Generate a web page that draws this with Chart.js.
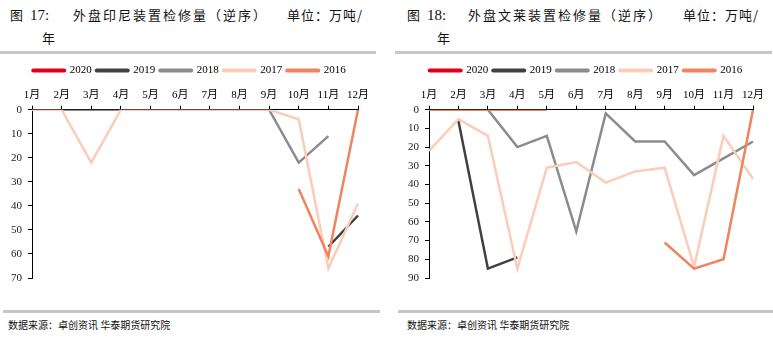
<!DOCTYPE html>
<html>
<head>
<meta charset="utf-8">
<script src="https://cdn.jsdelivr.net/npm/chart.js@4"></script>
<style>
  body { margin: 0; background: #fff; width: 773px; height: 344px; position: relative; overflow: hidden;
         font-family: 'Noto Sans CJK SC', sans-serif; color: #111; }
  .t { position: absolute; font-size: 13px; white-space: nowrap; line-height: 16px; letter-spacing: 2px; }
  .num { font-family: 'Liberation Serif', serif; font-size: 15px; letter-spacing: 0; }
  .rule { position: absolute; height: 3px; background: #c6c6c6; }
  .src { position: absolute; font-size: 10px; white-space: nowrap; line-height: 14px; letter-spacing: 0; }
  canvas { position: absolute; }
</style>
</head>
<body>
<div class="t" style="left:10px;top:7px">图 <span class="num">17:</span></div>
<div class="t" style="left:73px;top:7px">外盘印尼装置检修量（逆序）</div>
<div class="t" style="left:287px;top:7px;letter-spacing:1px">单位：万吨/</div>
<div class="t" style="left:42px;top:30px">年</div>
<div class="rule" style="left:0;top:51px;width:376px"></div>

<div class="t" style="left:407px;top:7px">图 <span class="num">18:</span></div>
<div class="t" style="left:468px;top:7px">外盘文莱装置检修量（逆序）</div>
<div class="t" style="left:683px;top:7px;letter-spacing:1px">单位：万吨/</div>
<div class="t" style="left:437px;top:30px">年</div>
<div class="rule" style="left:395px;top:51px;width:377px"></div>

<canvas id="graficoIndonesia" width="380" height="240" style="left:0;top:58px"></canvas>
<canvas id="graficoBrunei" width="383" height="240" style="left:390px;top:58px"></canvas>

<div class="rule" style="left:3px;top:310px;width:377px"></div>
<div class="rule" style="left:398px;top:310px;width:375px"></div>
<div class="src" style="left:8px;top:318px">数据来源：卓创资讯 华泰期货研究院</div>
<div class="src" style="left:407px;top:318px">数据来源：卓创资讯 华泰期货研究院</div>

<script>
const meses = ['1月', '2月', '3月', '4月', '5月', '6月', '7月', '8月', '9月', '10月', '11月', '12月'];
const anos = ['2020', '2019', '2018', '2017', '2016'];
const cores = ['#e0001b', '#404040', '#8c8c8c', '#fbcdb8', '#f0845e'];

// 印尼 (万吨, 逆序)
const indonesia2020 = [null, null, null, null, null, null, null, null, null, null, null, null];
const indonesia2019 = [null, null, null, null, null, null, null, null, null, null, 57, 44];
const indonesia2018 = [0, 0, 0, 0, 0, 0, 0, 0, 0, 22, 11, null];
const indonesia2017 = [0, 0, 22, 0, 0, 0, 0, 0, 0, 4, 66, 39];
const indonesia2016 = [null, null, null, null, null, null, null, null, null, 33, 61, 0];
const ticksIndonesia = [0, 10, 20, 30, 40, 50, 60, 70];

// 文莱
const brunei2020 = [null, null, null, null, null, null, null, null, null, null, null, null];
const brunei2019 = [null, 6, 85, 79, null, null, null, null, null, null, null, null];
const brunei2018 = [null, null, 0, 20, 14, 65, 2, 17, 17, 35, 26, 17];
const brunei2017 = [22, 5, 14, 85, 31, 28, 39, 33, 31, 84, 14, 37];
const brunei2016 = [0, 0, 0, 0, 0, null, null, null, 71, 85, 80, 0];
const ticksBrunei = [0, 10, 20, 30, 40, 50, 60, 70, 80, 90];

const fonteEixo = { family: "'Liberation Serif', 'Noto Sans CJK SC', serif", size: 11 };

// empurra a legenda para o lugar dela (o centro não é o da área do gráfico)
const moveLegenda = {
    id: 'moveLegenda',
    afterLayout(chart, args, opts) {
        chart.legend.left += opts.dx;
        chart.legend.right += opts.dx;
    }
};

function montaDatasets(series) {
    return series.map((dados, i) => ({
        label: anos[i],
        data: dados,
        borderColor: cores[i],
        backgroundColor: cores[i],
        borderWidth: 2.5,
        pointRadius: 0,
        tension: 0,
        order: 4 - i
    }));
}

function criaGrafico(id, series, ticks, pad, larguraY, dx) {
    const canvas = document.getElementById(id);
    return new Chart(canvas, {
        type: 'line',
        data: { labels: meses, datasets: montaDatasets(series) },
        plugins: [moveLegenda],
        options: {
            responsive: false,
            animation: false,
            devicePixelRatio: 1,
            layout: { padding: pad },
            plugins: {
                moveLegenda: { dx: dx },
                tooltip: { enabled: false },
                legend: {
                    position: 'top',
                    labels: {
                        usePointStyle: true,
                        pointStyleWidth: 31,
                        padding: 5,
                        color: '#000',
                        font: { family: "'Liberation Serif', serif", size: 11 },
                        generateLabels: (chart) => chart.data.datasets.map((ds, i) => ({
                            text: ds.label,
                            fillStyle: ds.borderColor,
                            strokeStyle: ds.borderColor,
                            lineWidth: 4,
                            lineCap: 'round',
                            pointStyle: 'line',
                            hidden: false,
                            datasetIndex: i
                        }))
                    }
                }
            },
            scales: {
                x: {
                    position: 'top',
                    offset: false,
                    grid: { drawOnChartArea: false, tickLength: 4, color: '#000' },
                    border: { color: '#000', width: 1 },
                    ticks: { color: '#000', font: fonteEixo, padding: 4, maxRotation: 0, autoSkip: false },
                    afterFit: (s) => { s.height = 23.7; }
                },
                y: {
                    reverse: true,
                    min: ticks[0],
                    max: ticks[ticks.length - 1],
                    grid: { drawOnChartArea: false, tickLength: 4, color: '#000' },
                    border: { color: '#000', width: 1 },
                    afterBuildTicks: (s) => { s.ticks = ticks.map(v => ({ value: v })); },
                    ticks: { color: '#1b1b2b', font: fonteEixo, padding: 6 },
                    afterFit: (s) => { s.width = larguraY; }
                }
            }
        }
    });
}

criaGrafico('graficoIndonesia',
    [indonesia2020, indonesia2019, indonesia2018, indonesia2017, indonesia2016],
    ticksIndonesia, { left: 0, right: 22, top: 2, bottom: 20 }, 32, 10.5);

criaGrafico('graficoBrunei',
    [brunei2020, brunei2019, brunei2018, brunei2017, brunei2016],
    ticksBrunei, { left: 0, right: 20, top: 2, bottom: 20 }, 39, 14.5);
</script>
</body>
</html>
